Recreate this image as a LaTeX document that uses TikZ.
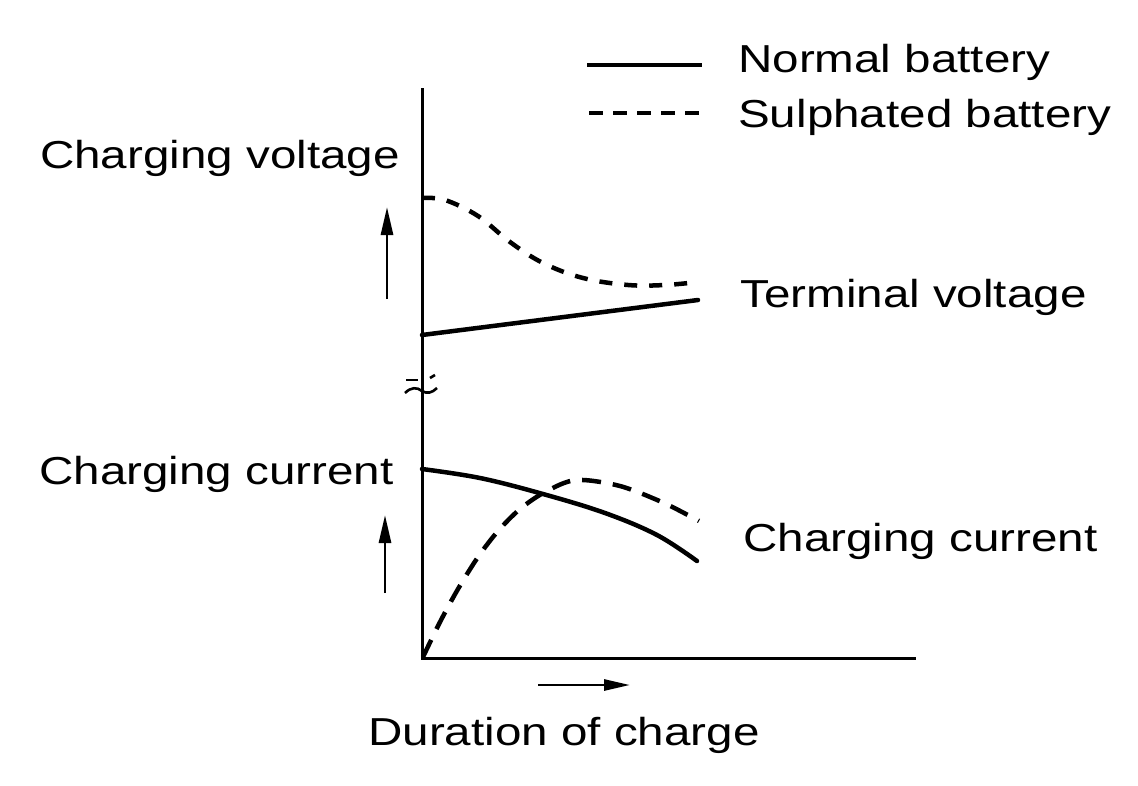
\documentclass[tikz,border=0pt]{standalone}
\usepackage{fontspec}
\setmainfont{Liberation Sans}
\usetikzlibrary{arrows.meta}
\begin{document}
\begin{tikzpicture}[x=1pt,y=-1pt,
  lbl/.style={font=\fontsize{39}{46}\selectfont, inner sep=0pt, xscale=1.22},
  axisline/.style={line width=3pt},
  curve/.style={line width=4.5pt, line cap=round},
  dashvolt/.style={line width=4.5pt, dash pattern=on 13pt off 12pt},
  dashcurr/.style={line width=4.5pt, dash pattern=on 19pt off 12pt},
  uparrow/.style={line width=2.8pt, -{Triangle[length=28pt,width=12pt]}}]
\useasboundingbox (0,0) rectangle (1138,785);
\fill[white] (0,0) rectangle (1138,785);

% axes
\coordinate (ytop) at (422,88);
\coordinate (orig) at (422,658);
\coordinate (xend) at (916,658);
\draw[axisline] (ytop) -- (orig) -- (xend);

% axis break marks
\draw[line width=2.6pt] (406,380) -- (418,380);
\draw[line width=2.6pt] (430,378) -- (435,375);
\draw[line width=2.6pt] (405,393) .. controls (411,387) and (417,387) .. (422,391) .. controls (427,394) and (432,393) .. (437,388);

% legend
\coordinate (l1a) at (587,65); \coordinate (l1b) at (702,65);
\coordinate (l2a) at (589,113); \coordinate (l2b) at (700,113);
\draw[line width=3.8pt] (l1a) -- (l1b);
\draw[line width=3.8pt, dash pattern=on 14pt off 10pt] (l2a) -- (l2b);
\node[lbl, anchor=base west] (normal) at (738,72) {Normal battery};
\node[lbl, anchor=base west] (sulph) at (738,127) {Sulphated battery};

% voltage section
\node[lbl, anchor=base east] (cv) at (400,168) {Charging voltage};
\coordinate (va1) at (387,299); \coordinate (va2) at (387,207);
\draw[uparrow] (va1) -- (va2);
\draw[curve] (422,335) -- (698,300);
\draw[dashvolt] plot[smooth, tension=0.6] coordinates {(422,198) (445,200) (478,216) (510,242) (543,263) (583,278) (628,285) (665,285) (698,282)};
\node[lbl, anchor=base west] (tv) at (740,307) {Terminal voltage};

% current section
\node[lbl, anchor=base east] (cc1) at (394,484) {Charging current};
\coordinate (ca1) at (385,593); \coordinate (ca2) at (385,515);
\draw[uparrow] (ca1) -- (ca2);
\draw[curve] plot[smooth, tension=0.6] coordinates {(422,469) (480,478) (543,494) (605,513) (657,535) (697,561)};
\draw[dashcurr] plot[smooth, tension=0.5] coordinates {(423,657) (440,622) (458,589) (478,557) (498,531) (520,509) (545,492) (576,480) (620,486) (664,503) (699,521)};
\node[lbl, anchor=base west] (cc2) at (743,551) {Charging current};

% time arrow and label
\coordinate (ta1) at (538,685); \coordinate (ta2) at (630,685);
\draw[line width=2.8pt, -{Triangle[length=26pt,width=11pt]}] (ta1) -- (ta2);
\node[lbl, anchor=base west] (dur) at (368,745) {Duration of charge};
\end{tikzpicture}
\end{document}
